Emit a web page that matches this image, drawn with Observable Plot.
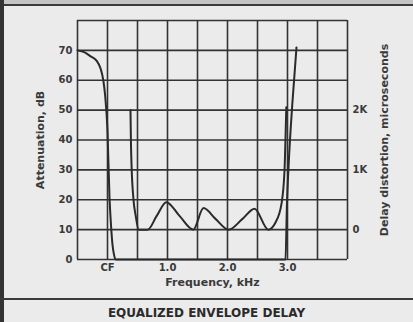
<!DOCTYPE html>
<html>
<head>
<meta charset="utf-8">
<script src="https://cdn.jsdelivr.net/npm/d3@7"></script>
<script src="https://cdn.jsdelivr.net/npm/@observablehq/plot@0.6"></script>
<style>
  html, body { margin: 0; padding: 0; background: #ebebeb; }
  #wrap { position: relative; width: 413px; height: 322px; overflow: hidden; background: #ebebeb; font-family: "DejaVu Sans", sans-serif; }
  #topbar { position: absolute; left: 0; top: 0; width: 413px; height: 4px; background: #c4c4c4; border-bottom: 2px solid #3a3a3a; }
  #leftbar { position: absolute; left: 0; top: 0; width: 4px; height: 322px; background: #333; }
  #chart { position: absolute; left: 0; top: 0; }
  #caption { position: absolute; left: 0; top: 298px; width: 413px; height: 24px; border-top: 2px solid #3a3a3a; text-align: center; font-weight: bold; font-size: 12px; line-height: 26px; color: #2a2a2a; }
</style>
</head>
<body>
<div id="wrap">
  <div id="chart"></div>
  <div id="topbar"></div>
  <div id="leftbar"></div>
  <div id="caption">EQUALIZED ENVELOPE DELAY</div>
</div>
<script>
// Frequency axis (kHz, CF = 0)
const freqTicks = [0, 1, 2, 3];
const freqTickLabels = ["CF", "1.0", "2.0", "3.0"];
const freqGrid = [-0.5, 0, 0.5, 1, 1.5, 2, 2.5, 3, 3.5, 4];

// Attenuation axis (dB)
const attTicks = [0, 10, 20, 30, 40, 50, 60, 70];
const attGrid = [0, 10, 20, 30, 40, 50, 60, 70, 80];

// Delay distortion axis (microseconds)
const delayTicks = [0, 1000, 2000];
const delayTickLabels = ["0", "1K", "2K"];

// Attenuation curve
const attFreq = [-0.5, -0.38, -0.28, -0.18, -0.117, -0.07, -0.04, 0.0, 0.033, 0.06, 0.083, 0.11, 0.133, 1.5, 2.967, 2.99, 3.02, 3.08, 3.15];
const attDb   = [70, 69.3, 68, 66.5, 64, 60, 55, 43, 21, 11, 5, 1.5, 0, 0, 0, 18, 32, 52, 71];

// Delay distortion curve
const delayFreq = [0.383, 0.39, 0.40, 0.43, 0.47, 0.52, 0.60, 0.67, 0.82, 0.98, 1.20, 1.43, 1.60, 1.80, 2.02, 2.25, 2.45, 2.68, 2.80, 2.90, 2.95, 2.97, 2.98];
const delayUs   = [2000, 1500, 1100, 540, 230, 0, 0, 0, 230, 460, 230, 0, 360, 180, 0, 180, 350, 0, 120, 435, 985, 1650, 2050];

const delayToAtt = d => 10 + d / 50;

const att = attFreq.map((f, i) => ({f, v: attDb[i]}));
const del = delayFreq.map((f, i) => ({f, v: delayToAtt(delayUs[i])}));
const rightTicks = delayTicks.map((d, i) => ({y: delayToAtt(d), label: delayTickLabels[i]}));

const ink = "#333";
const txt = "#3a3a3a";

const chart = Plot.plot({
  width: 413,
  height: 298,
  marginLeft: 77,
  marginRight: 66,
  marginTop: 20,
  marginBottom: 39,
  style: {background: "transparent", fontFamily: "DejaVu Sans, sans-serif", fontSize: "10px", fontWeight: "bold", color: txt},
  x: {domain: [-0.5, 4.0]},
  y: {domain: [0, 80]},
  marks: [
    Plot.ruleX(freqGrid, {stroke: ink, strokeWidth: 1.6}),
    Plot.ruleY(attGrid, {stroke: ink, strokeWidth: 1.6}),
    Plot.axisX(freqTicks, {tickSize: 0, tickPadding: 4, tickFormat: d => freqTickLabels[freqTicks.indexOf(d)], label: null, fill: txt, fontSize: 10}),
    Plot.axisY(attTicks, {anchor: "left", tickSize: 0, tickPadding: 5, label: null, fill: txt, fontSize: 10}),
    Plot.axisY(rightTicks.map(d => d.y), {anchor: "right", tickSize: 0, tickPadding: 5, tickFormat: y => rightTicks.find(t => t.y === y).label, label: null, fill: txt, fontSize: 10}),
    Plot.text(["Frequency, kHz"], {frameAnchor: "bottom", dy: 26, textAnchor: "middle", fontSize: 11, fontWeight: "bold", fill: txt}),
    Plot.text(["Attenuation, dB"], {frameAnchor: "left", dx: -37, textAnchor: "middle", rotate: -90, fontSize: 11, fontWeight: "bold", fill: txt}),
    Plot.text(["Delay distortion, microseconds"], {frameAnchor: "right", dx: 37, textAnchor: "middle", rotate: -90, fontSize: 11, fontWeight: "bold", fill: txt}),
    Plot.line(att, {x: "f", y: "v", stroke: "#2a2a2a", strokeWidth: 2, curve: "monotone-x"}),
    Plot.line(del, {x: "f", y: "v", stroke: "#2a2a2a", strokeWidth: 2, curve: "monotone-x"})
  ]
});
document.getElementById("chart").appendChild(chart);
</script>
</body>
</html>
